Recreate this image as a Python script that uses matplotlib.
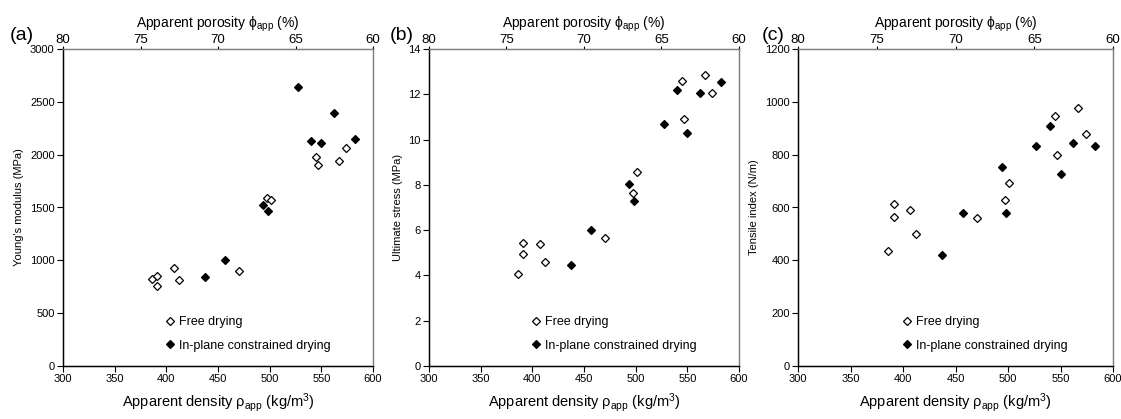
import numpy as np
import matplotlib
matplotlib.use("Agg")
import matplotlib.pyplot as plt

plt.rcParams['font.family'] = ['Liberation Sans', 'DejaVu Sans']
plt.rcParams['mathtext.default'] = 'regular'

# density (kg/m3) of the samples
rho_free = [386, 391, 391, 407, 412, 470, 497, 501, 545, 547, 567, 574]
rho_cons = [437, 457, 494, 498, 527, 540, 550, 562, 583]

# (a) Young's modulus (MPa)
E_free = [827, 852, 761, 928, 812, 897, 1592, 1569, 1974, 1898, 1942, 2065]
E_cons = [846, 1001, 1528, 1465, 2643, 2125, 2106, 2394, 2151]

# (b) ultimate stress (MPa)
s_free = [4.08, 4.95, 5.42, 5.38, 4.59, 5.67, 7.65, 8.58, 12.58, 10.90, 12.83, 12.04]
s_cons = [4.46, 6.01, 8.05, 7.27, 10.69, 12.21, 10.31, 12.04, 12.54]

# (c) tensile index (N/m)
T_free = [435, 564, 613, 592, 501, 559, 630, 692, 945, 799, 977, 878]
T_cons = [419, 580, 754, 580, 833, 910, 725, 846, 833]

panels = [
    ("(a)", "Young's modulus (MPa)", E_free, E_cons, 3000, 500),
    ("(b)", "Ultimate stress (MPa)", s_free, s_cons, 14, 2),
    ("(c)", "Tensile index (N/m)", T_free, T_cons, 1200, 200),
]
lefts = [63, 429, 798]
widths = [310, 310, 315]
label_x = [10, 390, 762]

W, H = 1121, 419
fig = plt.figure(figsize=(W / 100, H / 100), dpi=100)
grey = '#808080'

for i, (tag, ylab, yf, yc, ymax, ystep) in enumerate(panels):
    ax = fig.add_axes([lefts[i] / W, 1 - 366 / H, widths[i] / W, 317 / H])
    ax.plot(rho_free, yf, 'D', ms=3.8, mfc='white', mec='black', mew=0.9,
            ls='none', label='Free drying')
    ax.plot(rho_cons, yc, 'D', ms=3.8, mfc='black', mec='black', mew=0.9,
            ls='none', label='In-plane constrained drying')
    ax.set_xlim(300, 600)
    ax.set_ylim(0, ymax)
    ax.set_xticks(np.arange(300, 601, 50))
    ax.set_yticks(np.arange(0, ymax + ystep / 2, ystep))
    ax.tick_params(direction='out', length=4, width=0.8, labelsize=8, pad=2)
    ax.spines['top'].set_color(grey)
    ax.spines['right'].set_color(grey)
    for s in ax.spines.values():
        s.set_linewidth(1.0)
    ax.set_xlabel(r'Apparent density $\rho_{app}$ (kg/m$^3$)', fontsize=10.5, labelpad=5)
    ax.set_ylabel(ylab, fontsize=8, labelpad=4)

    top = ax.twiny()
    top.set_xlim(80, 60)
    top.set_xticks([80, 75, 70, 65, 60])
    top.tick_params(direction='out', length=2.5, width=0.8, labelsize=9.5, pad=0)
    top.spines['top'].set_color(grey)
    top.spines['right'].set_color(grey)
    top.set_xlabel(r'Apparent porosity $\phi_{app}$ (%)', fontsize=10, labelpad=4)

    ax.legend(loc='lower left', bbox_to_anchor=(0.33, 0.045), frameon=False,
              fontsize=9, handlelength=0.8, handletextpad=0.3, labelspacing=0.9,
              borderpad=0, borderaxespad=0)

    fig.text(label_x[i] / W, 1 - 35 / H, tag, fontsize=14, va='center', ha='left')

fig.savefig('out.png', dpi=100)
